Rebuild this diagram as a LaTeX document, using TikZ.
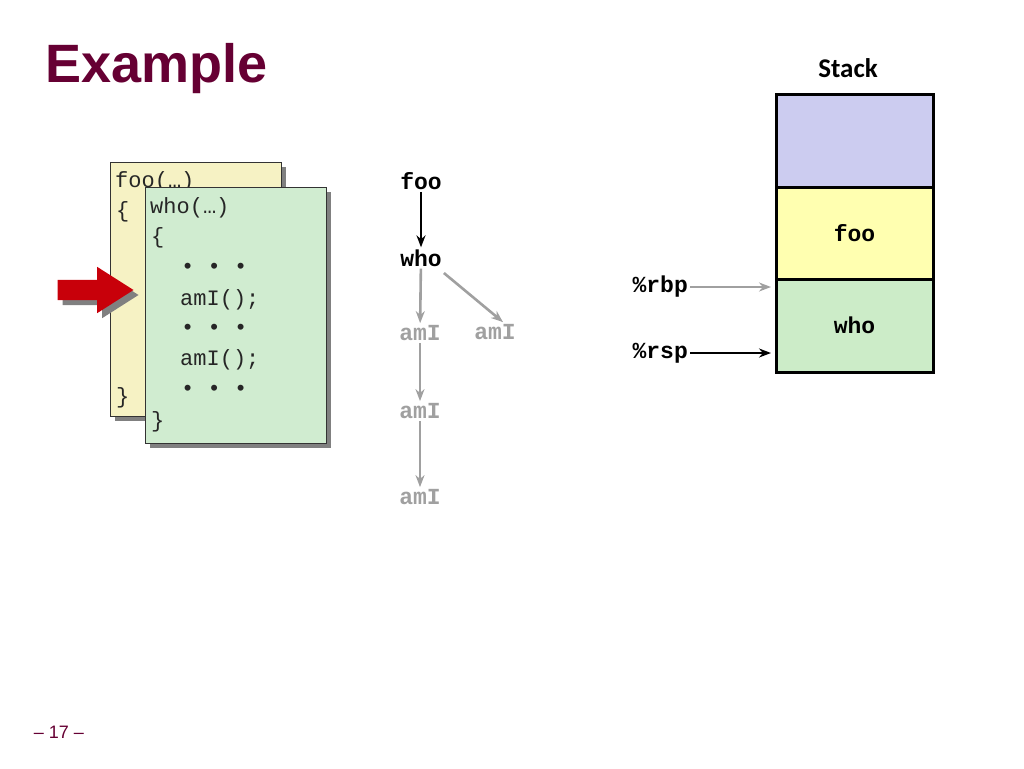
\documentclass[tikz,border=0pt]{standalone}
\usepackage{fontspec}
\setmainfont{Liberation Sans}
\newfontfamily\codefont{Liberation Mono}
\newfontfamily\headfont{Carlito}
\usetikzlibrary{positioning,shapes.arrows,shadows,arrows.meta}
\definecolor{titlered}{RGB}{102,0,51}
\definecolor{cardyellow}{RGB}{246,242,196}
\definecolor{cardgreen}{RGB}{208,236,208}
\definecolor{slotblue}{RGB}{204,204,240}
\definecolor{slotyellow}{RGB}{255,255,176}
\definecolor{slotgreen}{RGB}{204,236,200}
\definecolor{callgray}{RGB}{160,160,160}
\definecolor{arrowred}{RGB}{200,0,10}
\tikzset{
  card/.style={draw=black!80, line width=0.8pt, minimum width=#1, anchor=north west,
    inner sep=0pt, drop shadow={shadow xshift=5pt, shadow yshift=-5pt, fill=black!50, opacity=1}},
  code/.style={font=\codefont\fontsize{22}{22}\selectfont, anchor=west, inner sep=0pt, text=black!85},
  call/.style={font=\codefont\bfseries\fontsize{23}{23}\selectfont, inner sep=2pt},
  slot/.style={draw, line width=3pt, minimum width=157pt, minimum height=92.5pt,
    inner sep=0pt, font=\codefont\bfseries\fontsize{23}{23}\selectfont},
  callarrow/.style={-{Stealth[length=12pt,width=9pt]}, line width=2.6pt}
}
\begin{document}
\begin{tikzpicture}[x=1pt, y=-1pt]
  \useasboundingbox (0,0) rectangle (1024,768);
  % Title
  \node[anchor=west, inner sep=0pt, text=titlered, font=\bfseries\fontsize{54}{54}\selectfont] (title) at (45,69) {Example};
  \node[text=titlered, font=\fontsize{18}{18}\selectfont, inner sep=0pt] (page) at (59,732) {– 17 –};
  % Code cards
  \node[card=171pt, minimum height=254pt, fill=cardyellow] (foocard) at (110,162) {};
  \node[code] (foo1) at (115,182) {foo(…)};
  \node[code] (foo2) at (116,212) {\{};
  \node[code] (foo3) at (116,398) {\}};
  \node[card=181pt, minimum height=256pt, fill=cardgreen] (whocard) at (145,187) {};
  \foreach \x/\y/\txt [count=\i] in {150/208/who(…), 151/238/\{, 181/268/• • •, 180/300/amI();,
      181/329/• • •, 180/360/amI();, 181/390/• • •, 151/422/\}}
    \node[code] (who\i) at (\x,\y) {\txt};
  % Current position
  \node[single arrow, fill=arrowred, inner xsep=0pt, inner ysep=10pt, minimum height=76pt,
    single arrow head extend=13pt, single arrow tip angle=65,
    drop shadow={shadow xshift=5pt, shadow yshift=-5pt, fill=black!50, opacity=1}] (here) at (87.5,290) {};
  % Call tree
  \node[call] (tfoo) at (421,181) {foo};
  \node[call] (twho) at (421,258) {who};
  \node[call, text=callgray] (tami1) at (420,333) {amI};
  \node[call, text=callgray] (tami2) at (495,332) {amI};
  \node[call, text=callgray] (tami3) at (420,411) {amI};
  \node[call, text=callgray] (tami4) at (420,497) {amI};
  \draw[callarrow] (tfoo) -- (twho);
  \draw[callarrow, callgray] (twho) -- (tami1);
  \draw[callarrow, callgray] (twho.east) ++(0,15) coordinate (wstart) -- ([xshift=8pt]tami2.north);
  \draw[callarrow, callgray] (tami1) -- (tami3);
  \draw[callarrow, callgray] (tami3) -- (tami4);
  % Stack
  \node[font=\headfont\bfseries\fontsize{27}{27}\selectfont] (stackhead) at (848,68) {Stack};
  \node[slot, fill=slotblue] (sblue) at (854.5,140.75) {};
  \node[slot, fill=slotyellow, below=-3pt of sblue] (sfoo) {foo};
  \node[slot, fill=slotgreen, below=-3pt of sfoo] (swho) {who};
  % Registers
  \node[call, anchor=east] (rbp) at (690,287) {\%rbp};
  \node[call, anchor=east] (rsp) at (690,353) {\%rsp};
  \coordinate (rbpend) at (771,287);
  \coordinate (rspend) at (771,353);
  \draw[callarrow, callgray, line width=2.3pt] (rbp) -- (rbpend);
  \draw[callarrow, line width=2.3pt] (rsp) -- (rspend);
\end{tikzpicture}
\end{document}
